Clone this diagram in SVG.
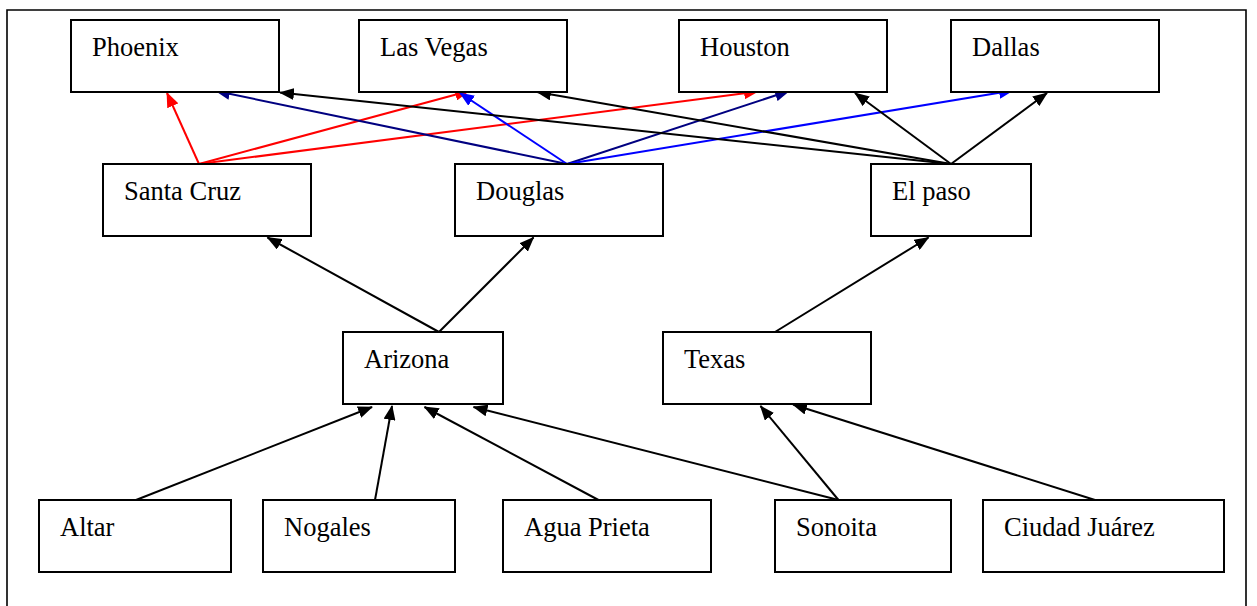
<svg xmlns="http://www.w3.org/2000/svg" width="1257" height="606" viewBox="0 0 1257 606">
<style>
.box{fill:#fff;stroke:#000;stroke-width:2}
.lbl{font-size:26.5px;fill:#000}
.e{fill:none;stroke-width:2}
.k{stroke:#000;marker-end:url(#ak)}
.r{stroke:#f00;marker-end:url(#ar)}
.b{stroke:#00f;marker-end:url(#ab)}
.n{stroke:#000080;marker-end:url(#an)}
</style>
<defs>
<marker id="ak" markerUnits="userSpaceOnUse" markerWidth="15" markerHeight="12" refX="14" refY="6" orient="auto" viewBox="0 0 15 12"><path d="M0,0 L15,6 L0,12 z" fill="#000"/></marker>
<marker id="ar" markerUnits="userSpaceOnUse" markerWidth="15" markerHeight="12" refX="14" refY="6" orient="auto" viewBox="0 0 15 12"><path d="M0,0 L15,6 L0,12 z" fill="#f00"/></marker>
<marker id="ab" markerUnits="userSpaceOnUse" markerWidth="15" markerHeight="12" refX="14" refY="6" orient="auto" viewBox="0 0 15 12"><path d="M0,0 L15,6 L0,12 z" fill="#00f"/></marker>
<marker id="an" markerUnits="userSpaceOnUse" markerWidth="15" markerHeight="12" refX="14" refY="6" orient="auto" viewBox="0 0 15 12"><path d="M0,0 L15,6 L0,12 z" fill="#000080"/></marker>
</defs>
<rect x="0" y="0" width="1257" height="606" fill="#fff"/>
<path d="M7,612 V10 H1246 V612" fill="none" stroke="#000" stroke-width="1.6"/>
<g id="connectors">
<line class="e r" x1="199" y1="164" x2="167" y2="93"/>
<line class="e r" x1="199" y1="164" x2="469" y2="91"/>
<line class="e r" x1="199" y1="164" x2="758" y2="91.5"/>
<line class="e n" x1="567" y1="164" x2="216" y2="91"/>
<line class="e b" x1="567" y1="164" x2="460" y2="93"/>
<line class="e n" x1="567" y1="164" x2="789" y2="91"/>
<line class="e b" x1="567" y1="164" x2="1013" y2="90.5"/>
<line class="e k" x1="951" y1="164" x2="280" y2="92.5"/>
<line class="e k" x1="951" y1="164" x2="537" y2="92"/>
<line class="e k" x1="951" y1="164" x2="855" y2="93"/>
<line class="e k" x1="951" y1="164" x2="1047" y2="93"/>
<line class="e k" x1="439" y1="332" x2="267.5" y2="237.5"/>
<line class="e k" x1="439" y1="332" x2="533.5" y2="237.5"/>
<line class="e k" x1="775" y1="332" x2="928.5" y2="237.5"/>
<line class="e k" x1="136" y1="500" x2="372" y2="407"/>
<line class="e k" x1="375" y1="500" x2="392" y2="406"/>
<line class="e k" x1="598.5" y1="500" x2="424.5" y2="407"/>
<line class="e k" x1="838.5" y1="500" x2="473.5" y2="407"/>
<line class="e k" x1="838.5" y1="500" x2="760.5" y2="406"/>
<line class="e k" x1="1095" y1="500" x2="793" y2="404.5"/>
</g>
<g font-family="'Liberation Serif', 'DejaVu Serif', serif">
<g id="phoenix"><rect class="box" x="71" y="20" width="208" height="72"/><text class="lbl" x="92" y="56">Phoenix</text></g>
<g id="las-vegas"><rect class="box" x="359" y="20" width="208" height="72"/><text class="lbl" x="380" y="56">Las Vegas</text></g>
<g id="houston"><rect class="box" x="679" y="20" width="208" height="72"/><text class="lbl" x="700" y="56">Houston</text></g>
<g id="dallas"><rect class="box" x="951" y="20" width="208" height="72"/><text class="lbl" x="972" y="56">Dallas</text></g>
<g id="santa-cruz"><rect class="box" x="103" y="164" width="208" height="72"/><text class="lbl" x="124" y="200">Santa Cruz</text></g>
<g id="douglas"><rect class="box" x="455" y="164" width="208" height="72"/><text class="lbl" x="476" y="200">Douglas</text></g>
<g id="el-paso"><rect class="box" x="871" y="164" width="160" height="72"/><text class="lbl" x="892" y="200">El paso</text></g>
<g id="arizona"><rect class="box" x="343" y="332" width="160" height="72"/><text class="lbl" x="364" y="368">Arizona</text></g>
<g id="texas"><rect class="box" x="663" y="332" width="208" height="72"/><text class="lbl" x="684" y="368">Texas</text></g>
<g id="altar"><rect class="box" x="39" y="500" width="192" height="72"/><text class="lbl" x="60" y="536">Altar</text></g>
<g id="nogales"><rect class="box" x="263" y="500" width="192" height="72"/><text class="lbl" x="284" y="536">Nogales</text></g>
<g id="agua-prieta"><rect class="box" x="503" y="500" width="208" height="72"/><text class="lbl" x="524" y="536">Agua Prieta</text></g>
<g id="sonoita"><rect class="box" x="775" y="500" width="176" height="72"/><text class="lbl" x="796" y="536">Sonoita</text></g>
<g id="ciudad-juarez"><rect class="box" x="983" y="500" width="241" height="72"/><text class="lbl" x="1004" y="536">Ciudad Juárez</text></g>
</g>
</svg>
